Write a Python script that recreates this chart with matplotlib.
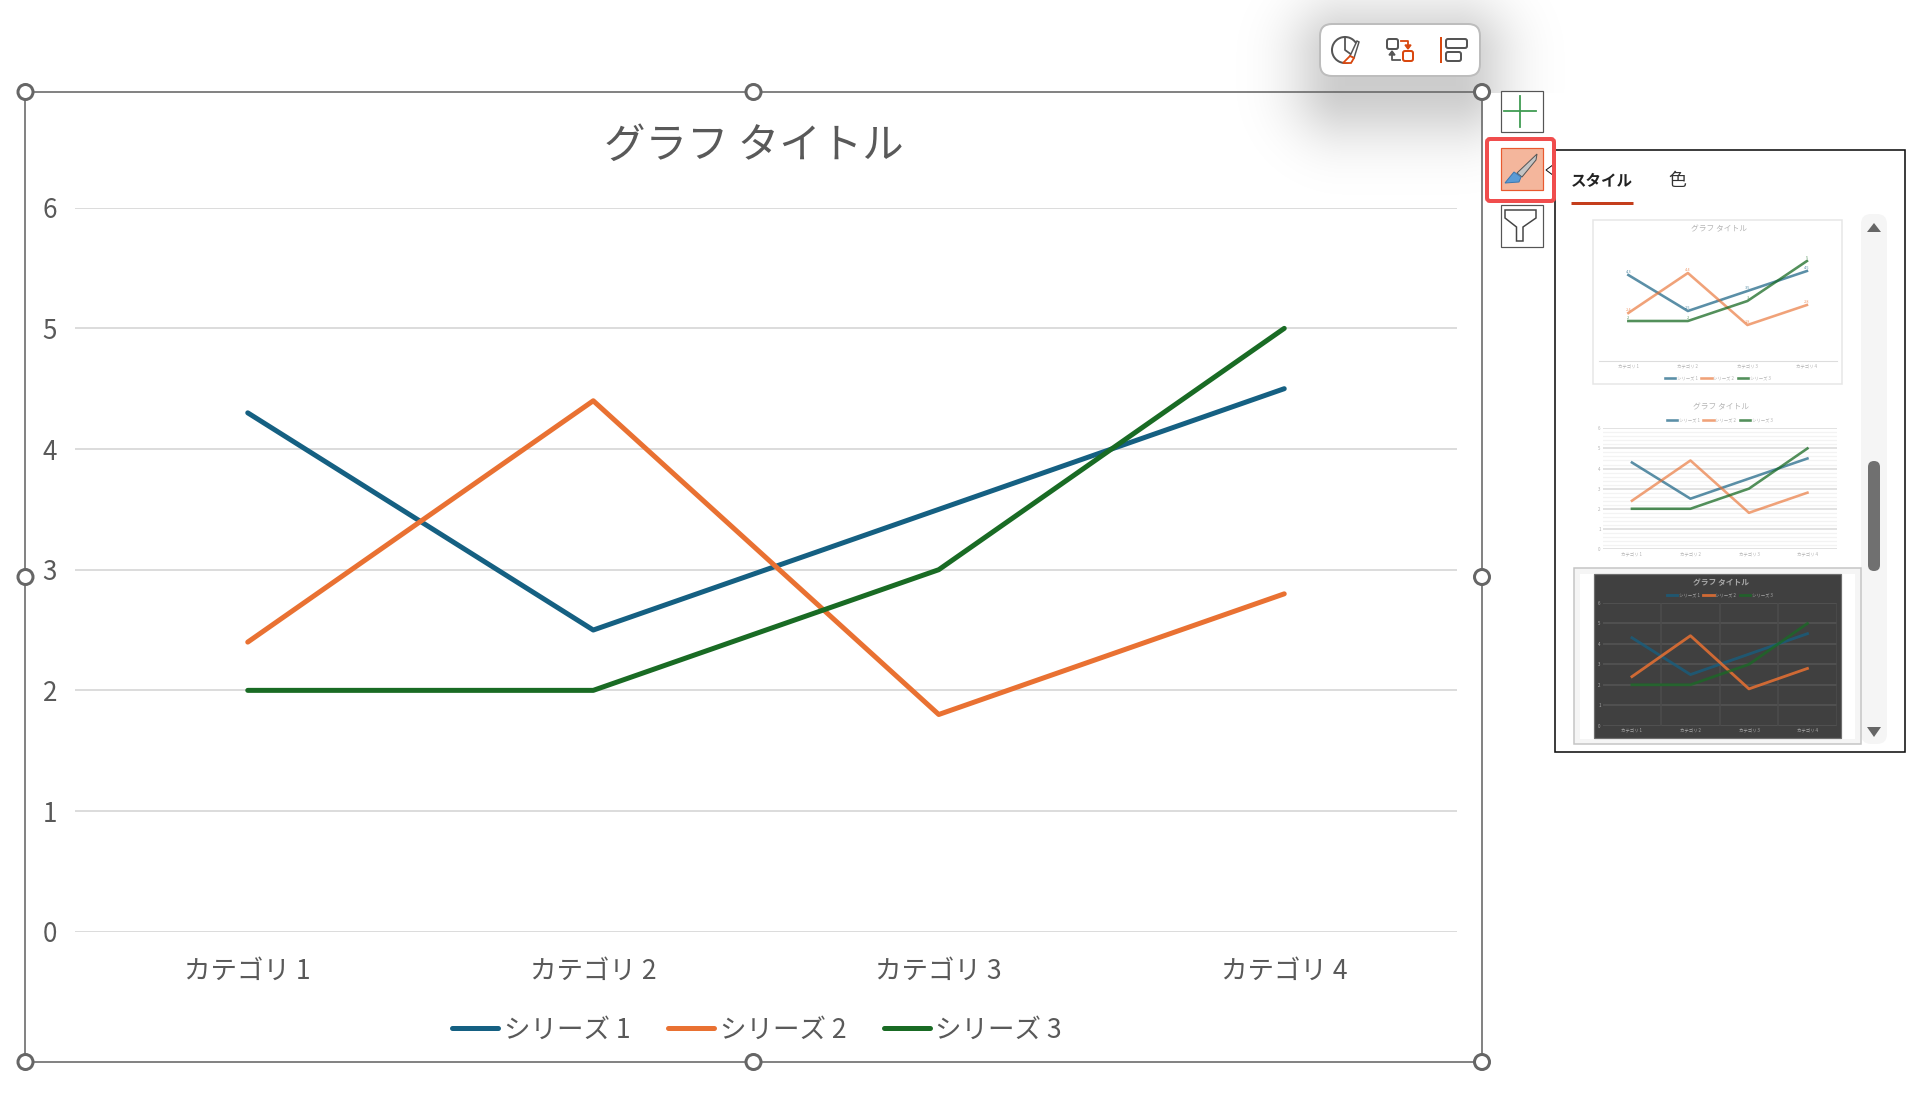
import numpy as np
import matplotlib
matplotlib.use("Agg")
import matplotlib.pyplot as plt
from matplotlib.patches import Arc, Circle, Rectangle, FancyBboxPatch, Polygon
from matplotlib.ticker import MultipleLocator

plt.rcParams['font.family'] = ['Noto Sans CJK JP', 'DejaVu Sans']

W, H = 1912, 1106

chart_title = "グラフ タイトル"
categories = ["カテゴリ 1", "カテゴリ 2", "カテゴリ 3", "カテゴリ 4"]
series_names = ["シリーズ 1", "シリーズ 2", "シリーズ 3"]
series_1 = [4.3, 2.5, 3.5, 4.5]
series_2 = [2.4, 4.4, 1.8, 2.8]
series_3 = [2, 2, 3, 5]
y_ticks = [0, 1, 2, 3, 4, 5, 6]
series_colors = ["#156082", "#e97132", "#196b24"]
all_series = [series_1, series_2, series_3]
tab_labels = ["スタイル", "色"]

TEXT = "#595959"
GRID = "#dcdcdc"
EDGE = "#666666"


def px_axes(x0, y0, x1, y1, zorder=2):
    # axes from pixel box, y measured from the top of the image
    ax = fig.add_axes([x0 / W, 1 - y1 / H, (x1 - x0) / W, (y1 - y0) / H], zorder=zorder)
    ax.patch.set_visible(False)
    return ax


def px(v):
    return v * 72 / 100


fig = plt.figure(figsize=(W / 100, H / 100), dpi=100, facecolor="white")

# ---- overlay for the powerpoint chrome, pixel coordinates
ui = fig.add_axes([0, 0, 1, 1], zorder=1)
ui.set_axis_off()

# toolbar shadow
yy, xx = np.mgrid[0:H, 0:W]
dx = np.maximum(np.maximum(1345 - xx, xx - 1455), 0)
dy = np.maximum(np.maximum(55 - yy, yy - 85), 0)
d = np.hypot(dx, dy)
shadow = np.zeros((H, W, 4))
shadow[..., 3] = 0.2 * np.exp(-(d / 55.0) ** 2)
shadow[..., 3][(xx > 1482) & (yy > 92)] = 0
ui.imshow(shadow, extent=(0, W, H, 0), aspect="auto", zorder=0, interpolation="bilinear")
ui.set_xlim(0, W)
ui.set_ylim(H, 0)

# selection frame and handles
fx = [25.5, 753.5, 1482]
fy = [92, 577, 1062]
ui.add_patch(Rectangle((fx[0], fy[0]), fx[2] - fx[0], fy[2] - fy[0], fill=False, ec=EDGE, lw=px(1.6), zorder=1))

for hx in fx:
    for hy in fy:
        if hx == fx[1] and hy == fy[1]:
            continue
        ui.add_patch(Circle((hx, hy), 7.5, fc="white", ec=EDGE, lw=px(3), zorder=6))

# floating toolbar
ui.add_patch(FancyBboxPatch((1328, 32), 144, 36, boxstyle="round,pad=8,rounding_size=12",
                            fc="white", ec="#bdbdbd", lw=px(2), zorder=7))
ICON = "#555555"
RED = "#d9480f"
ui.add_patch(Arc((1345, 50), 26, 26, theta1=55, theta2=330, ec=ICON, lw=px(2), zorder=8))
ui.plot([1345, 1345, 1352], [37, 50, 55], color=ICON, lw=px(1.8), zorder=8)
ui.add_patch(Polygon([[1357, 41], [1359, 42], [1354, 58], [1350, 56]], fc="white", ec=ICON, lw=px(1.5), zorder=9))
ui.add_patch(Polygon([[1350, 56], [1354, 58], [1351, 63], [1343, 63]], fc="white", ec=RED, lw=px(1.8), zorder=9))
ui.add_patch(FancyBboxPatch((1387, 39), 11, 10, boxstyle="round,pad=0,rounding_size=2", fc="white", ec=ICON, lw=px(2), zorder=8))
ui.add_patch(FancyBboxPatch((1403, 51), 10, 10, boxstyle="round,pad=0,rounding_size=2", fc="white", ec=RED, lw=px(2), zorder=8))
ui.plot([1401, 1408, 1408], [41, 41, 46], color=RED, lw=px(1.8), zorder=8)
ui.add_patch(Polygon([[1405, 45], [1411, 45], [1408, 49]], fc=RED, ec=RED, zorder=8))
ui.plot([1400, 1392, 1392], [60, 60, 55], color=ICON, lw=px(1.8), zorder=8)
ui.add_patch(Polygon([[1389, 55], [1395, 55], [1392, 51]], fc=ICON, ec=ICON, zorder=8))
ui.plot([1441, 1441], [38, 62], color=RED, lw=px(2), zorder=8)
ui.add_patch(FancyBboxPatch((1446, 39), 21, 9, boxstyle="round,pad=0,rounding_size=2", fc="white", ec=ICON, lw=px(2), zorder=8))
ui.add_patch(FancyBboxPatch((1446, 52), 15, 9, boxstyle="round,pad=0,rounding_size=2", fc="white", ec=ICON, lw=px(2), zorder=8))

# side buttons
ui.add_patch(Rectangle((1501, 91), 42, 41, fc="white", ec="#555555", lw=px(1.2), zorder=3))
ui.plot([1504.5, 1536], [111, 111], color="#3f9b52", lw=px(1.8), zorder=4)
ui.plot([1520, 1520], [96, 127], color="#3f9b52", lw=px(1.8), zorder=4)

ui.add_patch(Rectangle((1501, 148), 42, 42, fc="#f4b69c", ec="#e8592f", lw=px(1.2), zorder=3))
ui.add_patch(Polygon([[1537, 154], [1536, 160], [1522, 177], [1517, 173]], fc="#c4c4c4", ec="#555555", lw=px(1), zorder=4))
ui.add_patch(Polygon([[1514, 172], [1521, 177], [1519, 182], [1505, 183], [1509, 178]], fc="#5b9bd5", ec="#3c78b0", lw=px(1), zorder=4))
ui.add_patch(FancyBboxPatch((1487, 139), 67, 62, boxstyle="round,pad=0,rounding_size=3", fill=False,
                            ec="#f04d4d", lw=px(4), zorder=6))

ui.add_patch(Rectangle((1501, 205), 42, 42, fc="white", ec="#555555", lw=px(1.2), zorder=3))
ui.add_patch(Polygon([[1505, 210], [1536, 210], [1536, 218], [1523, 227], [1523, 241], [1516.5, 241],
                      [1516.5, 227], [1505, 218]], fc="white", ec="#444444", lw=px(1.5), zorder=4))

# style panel
ui.add_patch(Rectangle((1555.5, 150), 350, 602, fc="white", ec="#111111", lw=px(1.6), zorder=3))
ui.add_patch(Polygon([[1555.5, 163], [1546, 170], [1555.5, 177]], fc="white", ec="#111111", lw=px(1), zorder=4))
ui.plot([1556.5, 1556.5], [164, 176], color="white", lw=px(2.5), zorder=5)
ui.text(1571, 181, tab_labels[0], fontsize=px(15.5), fontweight="bold", color="#222222", va="center", ha="left", zorder=5)
ui.text(1677, 181, tab_labels[1], fontsize=px(18), color="#333333", va="center", ha="center", zorder=5)
ui.plot([1571, 1633], [203, 203], color="#c43e1c", lw=px(3), solid_capstyle="butt", zorder=5)

# scrollbar
ui.add_patch(FancyBboxPatch((1861, 214), 26, 530, boxstyle="round,pad=0,rounding_size=10", fc="#f5f5f5", ec="none", zorder=4))
ui.add_patch(FancyBboxPatch((1868, 461), 12, 110, boxstyle="round,pad=0,rounding_size=6", fc="#707070", ec="none", zorder=5))
ui.add_patch(Polygon([[1867, 232], [1881, 232], [1874, 223]], fc="#666666", ec="none", zorder=5))
ui.add_patch(Polygon([[1867, 727], [1881, 727], [1874, 737]], fc="#666666", ec="none", zorder=5))

# ---- main chart
ax = px_axes(75, 207.7, 1457, 931.7, zorder=2)
x = np.arange(len(categories))
for vals, name, col in zip(all_series, series_names, series_colors):
    ax.plot(x, vals, color=col, lw=px(5), label=name, solid_capstyle="round", solid_joinstyle="round", zorder=3)
ax.set_xlim(-0.5, 3.5)
ax.set_ylim(0, 6)
ax.set_xticks(x)
ax.set_xticklabels(categories)
ax.set_yticks(y_ticks)
ax.grid(axis="y", color=GRID, lw=px(2), zorder=1)
ax.set_axisbelow(True)
ax.tick_params(axis="x", length=0, pad=18.5, labelsize=px(26.5), labelcolor=TEXT)
ax.tick_params(axis="y", length=0, pad=13, labelsize=px(26), labelcolor=TEXT)
for s in ax.spines.values():
    s.set_visible(False)
ui.text(fx[1], 146, chart_title, fontsize=px(41.5), color=TEXT, ha="center", va="center", zorder=5)
ax.legend(loc="center", bbox_to_anchor=(757 / W, 1 - 1030 / H), bbox_transform=fig.transFigure, ncol=3,
          frameon=False, fontsize=px(26.5), labelcolor=TEXT, handlelength=1.75, handletextpad=0.2,
          columnspacing=1.42, borderpad=0)


# ---- thumbnails
def thumb(box, title_y, legend_y, fg, alphas, lw, title_bold=False):
    thumb_ax = px_axes(*box, zorder=3)
    for vals, col, a in zip(all_series, series_colors, alphas):
        thumb_ax.plot(x, vals, color=col, lw=px(lw), alpha=a, zorder=3)
    thumb_ax.set_xlim(-0.5, 3.5)
    thumb_ax.set_ylim(0, 6)
    thumb_ax.set_xticks(x)
    thumb_ax.set_xticklabels(categories)
    thumb_ax.set_yticks(y_ticks)
    thumb_ax.tick_params(length=0, labelsize=3.2, labelcolor=fg, pad=1.5)
    for s in thumb_ax.spines.values():
        s.set_visible(False)
    cx = (box[0] + box[2]) / 2
    ui.text(cx + 1, title_y, chart_title, fontsize=5.6, color=fg, ha="center", va="center", zorder=5,
            fontweight="bold" if title_bold else "normal")
    if legend_y:
        thumb_ax.legend(
            [plt.Line2D([], [], color=c, lw=px(lw), alpha=a) for c, a in zip(series_colors, alphas)],
            series_names, loc="center", bbox_to_anchor=(cx / W, 1 - legend_y / H), bbox_transform=fig.transFigure,
            ncol=3, frameon=False, fontsize=3.2, labelcolor=fg, handlelength=2.4, handletextpad=0.3,
            columnspacing=0.8, borderpad=0)
    return thumb_ax


# thumbnail 1: data labels, no gridlines
ui.add_patch(Rectangle((1593, 220), 249, 164, fc="white", ec="#e6e6e6", lw=px(1.5), zorder=4))
t1 = thumb((1598.6, 241, 1836.7, 361), 229, 378, "#b3b3b3", [0.7, 0.65, 0.75], 2.6)
t1.set_yticks([])
t1.spines["bottom"].set_visible(True)
t1.spines["bottom"].set_color("#dddddd")
for vals, col in zip(all_series, series_colors):
    for xi, v in zip(x, vals):
        t1.annotate(str(v), (xi, v), xytext=(0, 1), textcoords="offset points", ha="center", va="bottom",
                    fontsize=2.8, color=col, alpha=0.7)

# thumbnail 2: major and minor gridlines
t2 = thumb((1602.7, 428.3, 1836.7, 549), 407, 420, "#b3b3b3", [0.7, 0.65, 0.75], 2.6)
t2.yaxis.set_minor_locator(MultipleLocator(0.2))
t2.tick_params(axis="y", which="minor", length=0)
t2.grid(axis="y", which="minor", color="#f3f3f3", lw=px(1.2), zorder=1)
t2.grid(axis="y", which="major", color="#e2e2e2", lw=px(2), zorder=1)
t2.set_axisbelow(True)

# thumbnail 3: dark style, selected
ui.add_patch(Rectangle((1574, 568), 287, 176, fc="#f5f5f5", ec="#c4c4c4", lw=px(1.5), zorder=4))
ui.add_patch(Rectangle((1580, 574), 275, 165, fc="white", ec="none", zorder=4))
ui.add_patch(Rectangle((1594, 574), 247, 164, fc="#404040", ec="#6e6e6e", lw=px(1.2), zorder=4))
t3 = thumb((1602.7, 603, 1836.7, 725.7), 583, 595, "#a8a8a8", [0.75, 0.85, 0.75], 2.8, title_bold=True)
t3.grid(axis="y", color="#525252", lw=px(1.8), zorder=1)
for xv in [0.5, 1.5, 2.5, 3.5]:
    t3.axvline(xv, color="#4c4c4c", lw=px(1.6), zorder=1)
t3.set_axisbelow(True)
t3.tick_params(axis="x", pad=1)

fig.savefig("out.png", dpi=100, facecolor="white")
